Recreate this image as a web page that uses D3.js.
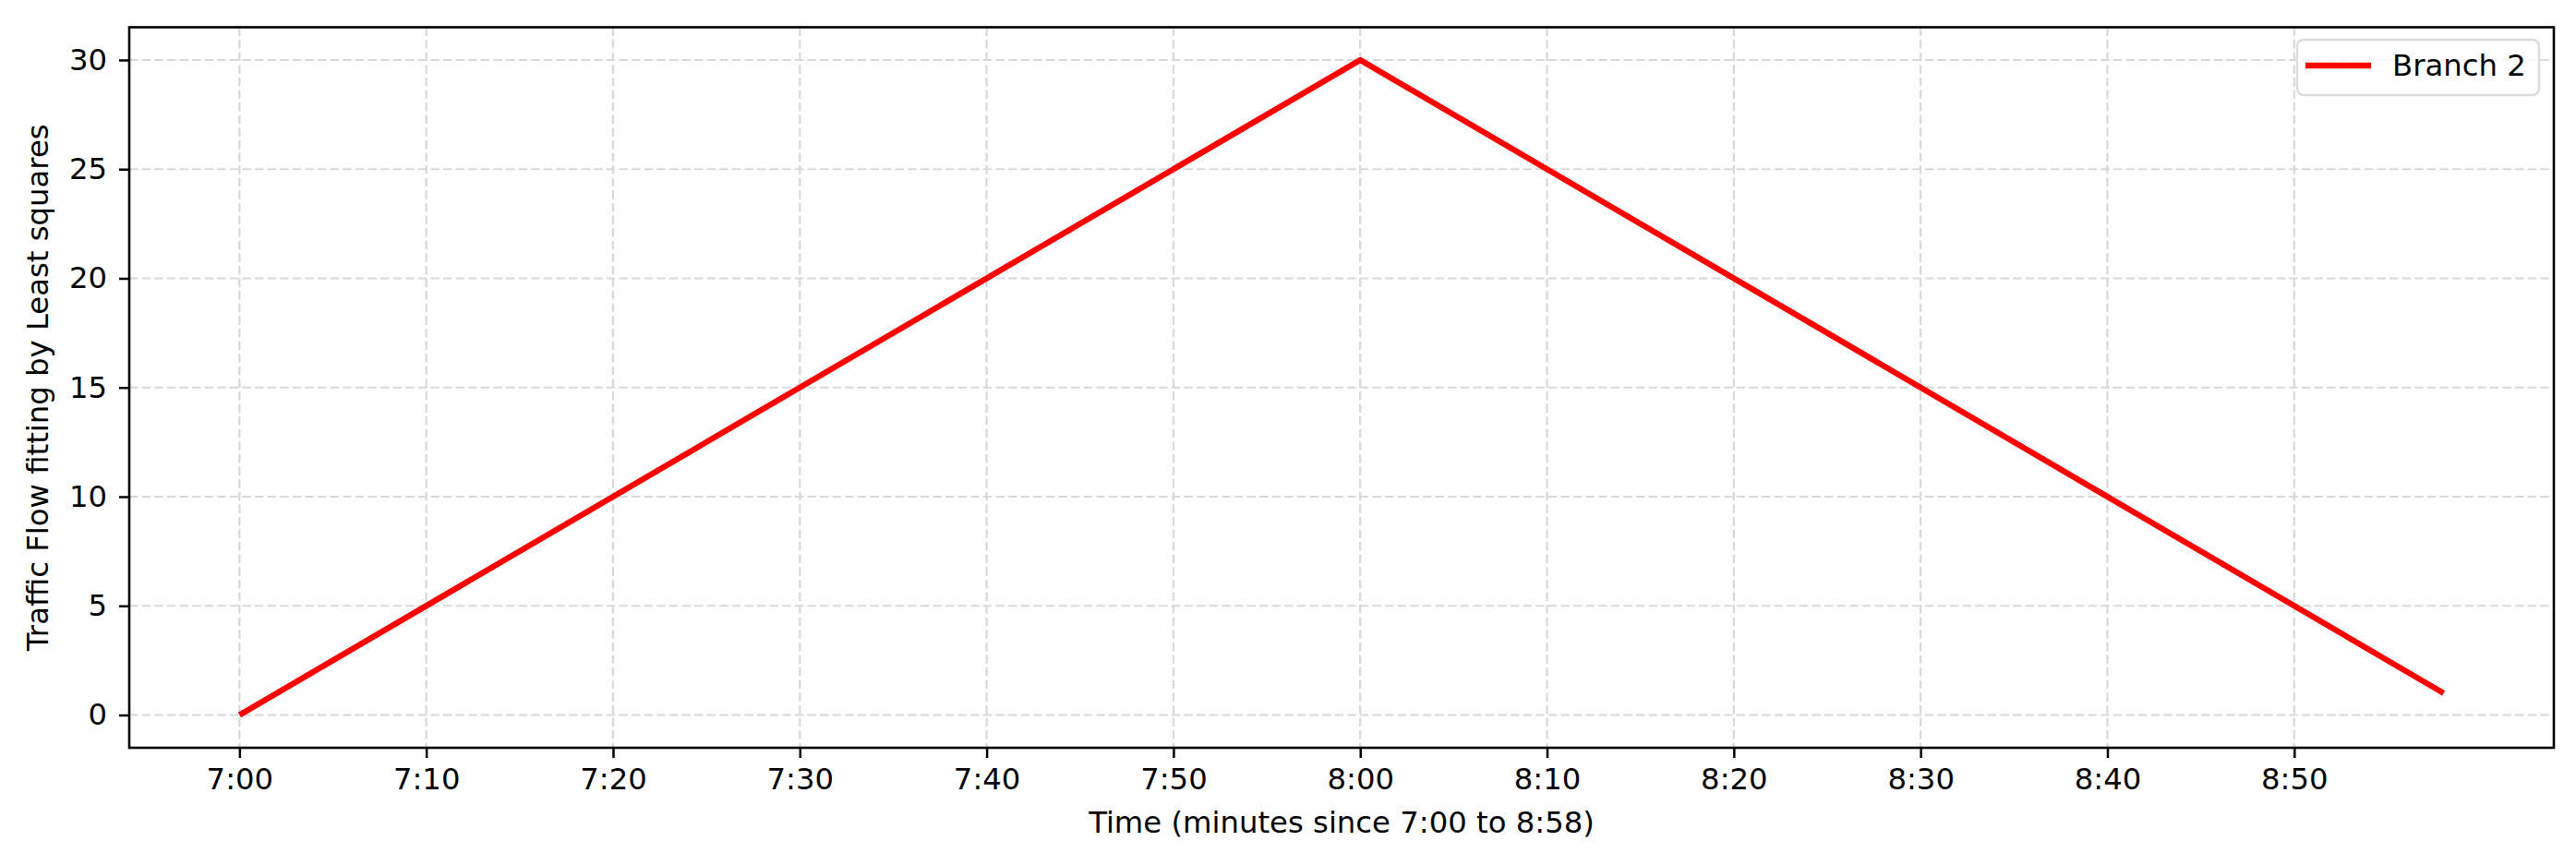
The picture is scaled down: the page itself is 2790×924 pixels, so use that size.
<!DOCTYPE html>
<html>
<head>
<meta charset="utf-8">
<script src="https://cdn.jsdelivr.net/npm/d3@7"></script>
<style>
  html, body { margin: 0; padding: 0; background: #fff; }
  svg { display: block; }
  text { font-family: "DejaVu Sans", sans-serif; fill: #000; }
</style>
</head>
<body>
<script>
// ---- data ----
const minutes = [0, 60, 118];          // minutes since 7:00
const branch2 = [0, 30, 1];            // traffic flow fitted by least squares
const xTickValues = [0, 10, 20, 30, 40, 50, 60, 70, 80, 90, 100, 110];
const xTickLabels = ["7:00", "7:10", "7:20", "7:30", "7:40", "7:50", "8:00", "8:10", "8:20", "8:30", "8:40", "8:50"];
const yTickValues = [0, 5, 10, 15, 20, 25, 30];
const seriesName = "Branch 2";

// ---- layout ----
const W = 2790, H = 924;
const pLeft = 140, pRight = 2766, pTop = 29.5, pBottom = 810;
const fontSize = 32.3;

const svg = d3.select("body").append("svg").attr("width", W).attr("height", H);

const xMin = d3.min(minutes), xMax = d3.max(minutes);
const xPad = (xMax - xMin) * 0.05;
const x = d3.scaleLinear().domain([xMin - xPad, xMax + xPad]).range([pLeft, pRight]);
const yMin = d3.min(branch2), yMax = d3.max(branch2);
const yPad = (yMax - yMin) * 0.05;
const y = d3.scaleLinear().domain([yMin - yPad, yMax + yPad]).range([pBottom, pTop]);

// grid
const grid = svg.append("g");
grid.selectAll("line.gx").data(xTickValues).join("line")
  .attr("x1", d => x(d)).attr("x2", d => x(d))
  .attr("y1", pTop).attr("y2", pBottom)
  .attr("stroke", "#d9d9d9").attr("stroke-width", 2.2)
  .attr("stroke-dasharray", "9.5,4.1");
grid.selectAll("line.gy").data(yTickValues).join("line")
  .attr("x1", pLeft).attr("x2", pRight)
  .attr("y1", d => y(d)).attr("y2", d => y(d))
  .attr("stroke", "#d9d9d9").attr("stroke-width", 2.2)
  .attr("stroke-dasharray", "9.5,4.1");

// line
const pts = minutes.map((m, i) => [m, branch2[i]]);
svg.append("path")
  .datum(pts)
  .attr("fill", "none")
  .attr("stroke", "#ff0000")
  .attr("stroke-width", 6.3)
  .attr("stroke-linejoin", "round")
  .attr("stroke-linecap", "butt")
  .attr("d", d3.line().x(d => x(d[0])).y(d => y(d[1])));

// axes
const xAxis = d3.axisBottom(x).tickValues(xTickValues)
  .tickFormat((d, i) => xTickLabels[i]).tickSizeOuter(0).tickSize(11).tickPadding(11);
const gx = svg.append("g").attr("transform", `translate(0,${pBottom})`).call(xAxis);
const yAxis = d3.axisLeft(y).tickValues(yTickValues).tickSizeOuter(0).tickSize(11).tickPadding(13);
const gy = svg.append("g").attr("transform", `translate(${pLeft},0)`).call(yAxis);
[gx, gy].forEach(g => {
  g.select(".domain").remove();
  g.selectAll(".tick line").attr("stroke", "#000").attr("stroke-width", 2.5);
  g.selectAll(".tick text").attr("font-size", fontSize).attr("font-family", "DejaVu Sans").attr("fill", "#1a1a1a");
});

// frame
svg.append("rect")
  .attr("x", pLeft).attr("y", pTop)
  .attr("width", pRight - pLeft).attr("height", pBottom - pTop)
  .attr("fill", "none").attr("stroke", "#000").attr("stroke-width", 2.6);

// axis labels
svg.append("text")
  .attr("x", (pLeft + pRight) / 2).attr("y", 902)
  .attr("text-anchor", "middle").attr("font-size", fontSize).attr("fill", "#1a1a1a")
  .text("Time (minutes since 7:00 to 8:58)");
svg.append("text")
  .attr("transform", `translate(52,${(pTop + pBottom) / 2}) rotate(-90)`)
  .attr("text-anchor", "middle").attr("font-size", fontSize).attr("fill", "#1a1a1a")
  .text("Traffic Flow fitting by Least squares");

// legend
const lg = svg.append("g");
lg.append("rect")
  .attr("x", 2488).attr("y", 43).attr("width", 262).attr("height", 60)
  .attr("rx", 7).attr("fill", "#fff").attr("fill-opacity", 0.8)
  .attr("stroke", "#dcdcdc").attr("stroke-width", 2.4);
lg.append("line")
  .attr("x1", 2497).attr("x2", 2568).attr("y1", 71).attr("y2", 71)
  .attr("stroke", "#ff0000").attr("stroke-width", 6.3);
lg.append("text")
  .attr("x", 2591).attr("y", 82).attr("font-size", fontSize).attr("fill", "#1a1a1a")
  .text(seriesName);
</script>
</body>
</html>
